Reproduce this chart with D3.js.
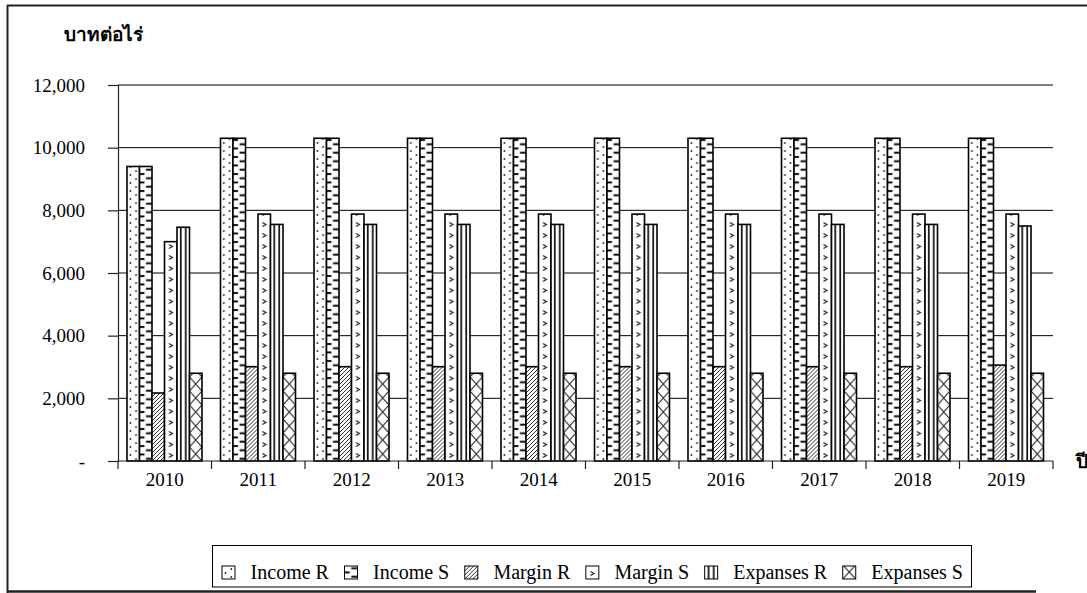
<!DOCTYPE html>
<html>
<head>
<meta charset="utf-8">
<script src="https://cdn.jsdelivr.net/npm/d3@7"></script>
<style>
  body { margin: 0; background: #fff; }
  svg { display: block; }
  text { font-family: "Liberation Serif", "Times New Roman", serif; fill: #000; }
</style>
</head>
<body>
<svg id="chart" width="1087" height="593"></svg>
<script>
// Baht per rai, by year
const years = ["2010", "2011", "2012", "2013", "2014", "2015", "2016", "2017", "2018", "2019"];
const seriesNames = ["Income R", "Income S", "Margin R", "Margin S", "Expanses R", "Expanses S"];
const incomeR   = [9400, 10300, 10300, 10300, 10300, 10300, 10300, 10300, 10300, 10300];
const incomeS   = [9400, 10300, 10300, 10300, 10300, 10300, 10300, 10300, 10300, 10300];
const marginR   = [2170, 3010, 3010, 3010, 3010, 3010, 3010, 3010, 3010, 3060];
const marginS   = [7000, 7880, 7880, 7880, 7880, 7880, 7880, 7880, 7880, 7880];
const expansesR = [7460, 7550, 7550, 7550, 7550, 7550, 7550, 7550, 7550, 7500];
const expansesS = [2800, 2800, 2800, 2800, 2800, 2800, 2800, 2800, 2800, 2800];
const yTicks = [0, 2000, 4000, 6000, 8000, 10000, 12000];
const yTitle = "บาทต่อไร่";
const xTitle = "ปี";

const seriesValues = [incomeR, incomeS, marginR, marginS, expansesR, expansesS];
const rows = [];
years.forEach((yr, i) => {
  seriesNames.forEach((s, j) => rows.push({ year: yr, series: s, si: j, value: seriesValues[j][i] }));
});

const svg = d3.select("#chart");
const defs = svg.append("defs");

const plotLeft = 118, plotRight = 1053, plotTop = 85, plotBottom = 461;

const x0 = d3.scaleBand().domain(years).range([plotLeft, plotRight]).padding(0);
const x1 = d3.scaleBand().domain(seriesNames).range([9, 84]).padding(0);
const y = d3.scaleLinear().domain([0, 12000]).range([plotBottom, plotTop]);

// Fill patterns; each one is anchored on the left edge of its bar and on the baseline
const painters = [
  // Income R: scattered dots
  (p, w) => {
    p.attr("height", 8);
    p.append("circle").attr("cx", w * 0.27).attr("cy", 2).attr("r", 0.9).attr("fill", "#222");
    p.append("circle").attr("cx", w * 0.72).attr("cy", 6).attr("r", 0.9).attr("fill", "#222");
  },
  // Income S: alternating edge dashes
  (p, w) => {
    p.attr("height", 8.5);
    p.append("line").attr("x1", 0).attr("x2", w * 0.4).attr("y1", 2).attr("y2", 2)
      .attr("stroke", "#000").attr("stroke-width", 1.9);
    p.append("line").attr("x1", w * 0.52).attr("x2", w).attr("y1", 6.25).attr("y2", 6.25)
      .attr("stroke", "#000").attr("stroke-width", 1.9);
  },
  // Margin R: diagonal hatching
  (p, w) => {
    p.attr("width", 4).attr("height", 4);
    p.append("path").attr("d", "M-1,1 L1,-1 M0,4 L4,0 M3,5 L5,3")
      .attr("stroke", "#333").attr("stroke-width", 1);
  },
  // Margin S: small chevrons
  (p, w) => {
    p.attr("height", 11);
    const cx = w * 0.5;
    p.append("path").attr("d", `M${cx - 1.8},3.5 L${cx + 1.6},5.5 L${cx - 1.8},7.5`)
      .attr("stroke", "#222").attr("stroke-width", 1.3).attr("fill", "none");
  },
  // Expanses R: vertical rules
  (p, w) => {
    p.attr("height", 10);
    p.append("line").attr("x1", w * 0.3).attr("x2", w * 0.3).attr("y1", 0).attr("y2", 10)
      .attr("stroke", "#000").attr("stroke-width", 1.6);
    p.append("line").attr("x1", w * 0.7).attr("x2", w * 0.7).attr("y1", 0).attr("y2", 10)
      .attr("stroke", "#000").attr("stroke-width", 1.6);
  },
  // Expanses S: diamond cross-hatch
  (p, w) => {
    const h = 14;
    p.attr("height", h);
    p.append("path").attr("d", `M0,0 L${w},${h} M${w},0 L0,${h}`)
      .attr("stroke", "#222").attr("stroke-width", 1.1).attr("fill", "none");
  }
];

let patternCount = 0;
function makePattern(si, px, py, w) {
  const id = "pat" + (patternCount++);
  const p = defs.append("pattern").attr("id", id)
    .attr("patternUnits", "userSpaceOnUse")
    .attr("x", px).attr("y", py).attr("width", w);
  p.append("rect").attr("width", 40).attr("height", 40).attr("fill", "#fff");
  painters[si](p, w);
  return "url(#" + id + ")";
}

// Gridlines
svg.append("g").selectAll("line").data(yTicks.filter(d => d > 0)).join("line")
  .attr("x1", plotLeft).attr("x2", plotRight)
  .attr("y1", d => y(d)).attr("y2", d => y(d))
  .attr("stroke", "#000").attr("stroke-width", 1);

// Bars
const bw = x1.bandwidth();
svg.append("g").selectAll("rect").data(rows).join("rect")
  .attr("x", d => x0(d.year) + x1(d.series))
  .attr("y", d => y(d.value))
  .attr("width", bw)
  .attr("height", d => y(0) - y(d.value))
  .attr("fill", d => makePattern(d.si, x0(d.year) + x1(d.series), y(0), bw))
  .attr("stroke", "#000").attr("stroke-width", 1.6);

// Y axis
const yAxis = d3.axisLeft(y).tickValues(yTicks).tickSize(10).tickPadding(23)
  .tickFormat(d => d === 0 ? "-" : d3.format(",")(d));
const gy = svg.append("g").attr("transform", `translate(${plotLeft},0)`).call(yAxis);
gy.select(".domain").attr("stroke", "#222").attr("stroke-width", 1.2);
gy.selectAll(".tick line").attr("stroke", "#222").attr("stroke-width", 1.2);
gy.selectAll(".tick text").style("font-family", "'Liberation Serif', serif").style("font-size", "19px").attr("fill", "#000");

// X axis: baseline, boundary ticks and year labels
const gx = svg.append("g");
gx.append("line").attr("x1", plotLeft).attr("x2", plotRight)
  .attr("y1", plotBottom).attr("y2", plotBottom).attr("stroke", "#222").attr("stroke-width", 1.2);
const bounds = years.map(d => x0(d)).concat([plotRight]);
gx.selectAll("line.tk").data(bounds).join("line").attr("class", "tk")
  .attr("x1", d => d).attr("x2", d => d).attr("y1", plotBottom).attr("y2", plotBottom + 8)
  .attr("stroke", "#222").attr("stroke-width", 1.2);
gx.selectAll("text").data(years).join("text")
  .attr("x", d => x0(d) + x0.bandwidth() / 2).attr("y", 486)
  .attr("text-anchor", "middle").style("font-size", "19px").text(d => d);

// Axis titles
svg.append("text").attr("x", 64).attr("y", 41).style("font-size", "19px").style("font-weight", "bold").text(yTitle);
svg.append("text").attr("x", 1076).attr("y", 468).style("font-size", "19px").style("font-weight", "bold").text(xTitle);

// Legend
const lg = svg.append("g");
lg.append("rect").attr("x", 212.5).attr("y", 545.5).attr("width", 759).attr("height", 41.5)
  .attr("fill", "#fff").attr("stroke", "#000").attr("stroke-width", 1);
const iconSize = 13;
const texts = seriesNames.map(s => lg.append("text").attr("y", 579).style("font-size", "20px").text(s));
const widths = texts.map(t => t.node().getComputedTextLength());
const startX = 222, endX = 963;
const gap = (endX - startX - d3.sum(widths) - iconSize * seriesNames.length) / (seriesNames.length * 2 - 1);
let cx = startX;
seriesNames.forEach((s, j) => {
  const iy = 566;
  lg.append("rect").attr("x", cx).attr("y", iy).attr("width", iconSize).attr("height", iconSize)
    .attr("fill", makePattern(j, cx, iy + iconSize, iconSize))
    .attr("stroke", "#000").attr("stroke-width", 1);
  cx += iconSize + gap;
  texts[j].attr("x", cx);
  cx += widths[j] + gap;
});

// Outer frame
const frame = svg.append("g").attr("stroke", "#222").attr("fill", "none");
frame.append("line").attr("x1", 7).attr("x2", 1087).attr("y1", 5.5).attr("y2", 5.5).attr("stroke-width", 2);
frame.append("line").attr("x1", 7.5).attr("x2", 7.5).attr("y1", 5).attr("y2", 593).attr("stroke-width", 2);
frame.append("line").attr("x1", 7).attr("x2", 1036).attr("y1", 591.5).attr("y2", 591.5).attr("stroke-width", 2.5);
</script>
</body>
</html>
